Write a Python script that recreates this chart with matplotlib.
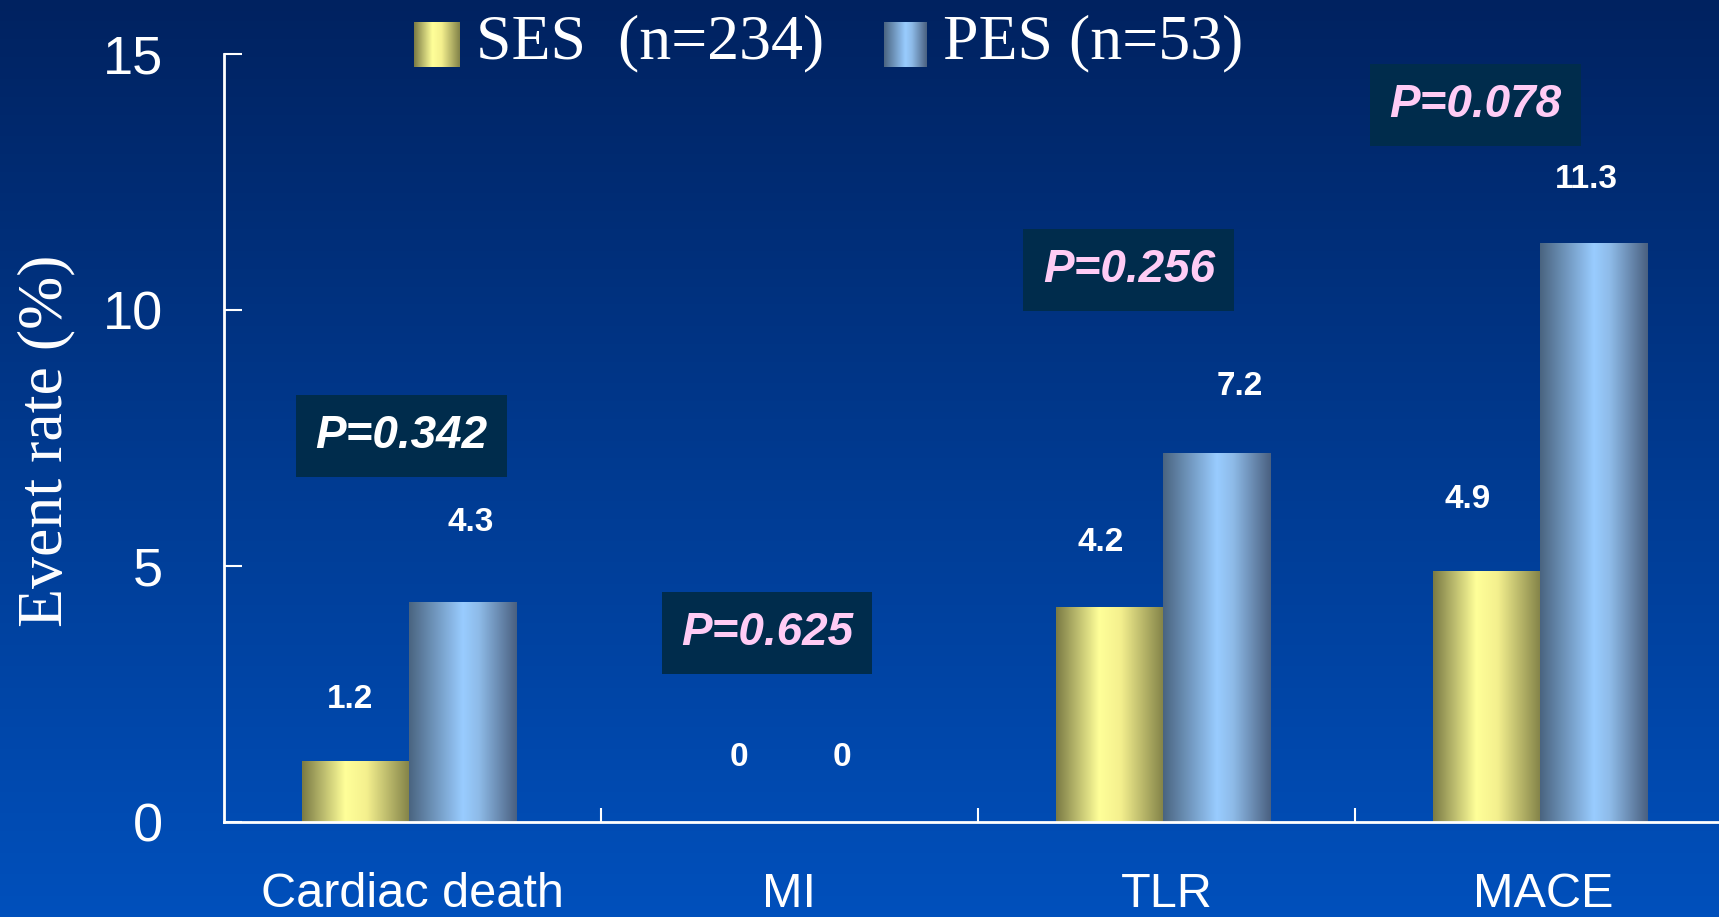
import numpy as np
import matplotlib
matplotlib.use("Agg")
import matplotlib.pyplot as plt
from matplotlib.colors import LinearSegmentedColormap

# data
categories = ["Cardiac death", "MI", "TLR", "MACE"]
ses_values = [1.2, 0, 4.2, 4.9]
pes_values = [4.3, 0, 7.2, 11.3]
p_labels = ["P=0.342", "P=0.625", "P=0.256", "P=0.078"]
series_names = ["SES  (n=234)", "PES (n=53)"]
y_ticks = [0, 5, 10, 15]

# placement of the p-value boxes (category offset, height)
p_dx = [-0.03, -0.06, -0.10, -0.18]
p_y = [7.54, 3.69, 10.78, 14.0]
p_colors = ["white", "#ffccf5", "#ffccf5", "#ffccf5"]
# placement of value labels relative to bar centre / top
ses_dx = [-0.016, 0.016, -0.024, -0.05]
pes_dx = [0.021, 0.005, 0.061, -0.019]
ses_off = [1.2, 1.25, 1.25, 1.4]
pes_off = [1.55, 1.25, 1.3, 1.25]

W, H = 1719, 917
fig = plt.figure(figsize=(W / 100, H / 100), dpi=100)

# background gradient
bg = fig.add_axes([0, 0, 1, 1])
bg_cmap = LinearSegmentedColormap.from_list("bg", ["#002260", "#003a90", "#0050bc"])
bg.imshow(np.linspace(0, 1, 256).reshape(-1, 1), aspect="auto", cmap=bg_cmap,
          extent=[0, 1, 0, 1])
bg.set_axis_off()

ax = fig.add_axes([224 / W, 1 - 822 / H, 1508 / W, 768 / H])
ax.patch.set_alpha(0)

ses_cmap = LinearSegmentedColormap.from_list(
    "ses", [(0, "#7a7a44"), (0.4, "#ffff99"), (0.6, "#f4f08e"), (1, "#828248")])
pes_cmap = LinearSegmentedColormap.from_list(
    "pes", [(0, "#4a6480"), (0.5, "#99ccff"), (0.65, "#8ebbe8"), (1, "#4a6080")])

x = np.arange(len(categories))
w = 0.284
shift = -0.008
grad = np.linspace(0, 1, 256).reshape(1, -1)


def grad_bars(xs, vals, cmap):
    bars = ax.bar(xs, vals, w, color="none", edgecolor="none")
    for b in bars:
        if b.get_height() <= 0:
            continue
        im = ax.imshow(grad, aspect="auto", cmap=cmap, interpolation="bicubic",
                       extent=[b.get_x(), b.get_x() + b.get_width(), 0, b.get_height()],
                       zorder=2)
        im.set_clip_path(b)
    return bars


x_ses = x - w / 2 + shift
x_pes = x + w / 2 + shift
grad_bars(x_ses, ses_values, ses_cmap)
grad_bars(x_pes, pes_values, pes_cmap)

for xi, v, dx, o in zip(x_ses, ses_values, ses_dx, ses_off):
    ax.text(xi + dx, v + o, f"{v:g}", ha="center", va="center", color="white",
            fontsize=24, fontweight="bold", family="Liberation Sans")
for xi, v, dx, o in zip(x_pes, pes_values, pes_dx, pes_off):
    ax.text(xi + dx, v + o, f"{v:g}", ha="center", va="center", color="white",
            fontsize=24, fontweight="bold", family="Liberation Sans")

for i, lab in enumerate(p_labels):
    ax.text(x[i] + p_dx[i], p_y[i], lab, ha="center", va="center", color=p_colors[i],
            fontsize=33, fontweight="bold", fontstyle="italic", family="Liberation Sans",
            bbox=dict(boxstyle="square,pad=0.42", facecolor="#002c4c", edgecolor="none"))

ax.set_xlim(-0.5, len(categories) - 0.5)
ax.set_ylim(0, 15)
ax.set_yticks(y_ticks)
ax.set_xticks(x)
ax.set_xticklabels(categories)
ax.set_xticks(x[:-1] + 0.5, minor=True)

for s in ["top", "right"]:
    ax.spines[s].set_visible(False)
for s in ["left", "bottom"]:
    ax.spines[s].set_color("white")
    ax.spines[s].set_linewidth(2)

ax.tick_params(axis="y", direction="in", length=13, width=1.5, colors="white",
               labelsize=39, pad=44)
ax.tick_params(axis="x", which="major", length=0, colors="white", labelsize=35, pad=36)
ax.tick_params(axis="x", which="minor", direction="in", length=10, width=1.5, color="white")
for t in ax.get_xticklabels() + ax.get_yticklabels():
    t.set_family("Liberation Sans")

ax.set_ylabel("Event rate (%)", color="white", fontsize=46, family="Liberation Serif",
              va="center")
ax.yaxis.set_label_coords((46 - 224) / 1508, (822 - 441) / 768)

# legend
sw_ses = fig.add_axes([414 / W, 1 - 67 / H, 46 / W, 45 / H])
sw_ses.imshow(grad, aspect="auto", cmap=ses_cmap, interpolation="bicubic")
sw_ses.set_axis_off()
sw_pes = fig.add_axes([884 / W, 1 - 67 / H, 43 / W, 45 / H])
sw_pes.imshow(grad, aspect="auto", cmap=pes_cmap, interpolation="bicubic")
sw_pes.set_axis_off()
fig.text(476 / W, 1 - 43 / H, series_names[0], color="white", fontsize=46,
         family="Liberation Serif", va="center", ha="left")
fig.text(943 / W, 1 - 43 / H, series_names[1], color="white", fontsize=46,
         family="Liberation Serif", va="center", ha="left")

fig.savefig("out.png", dpi=100)
